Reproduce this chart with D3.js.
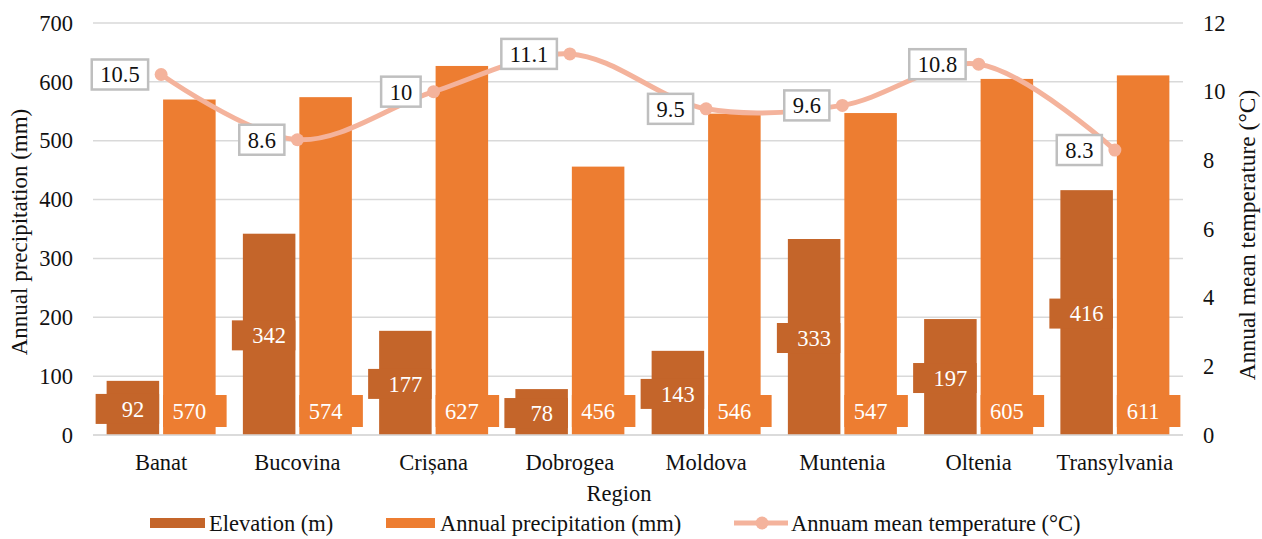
<!DOCTYPE html>
<html>
<head>
<meta charset="utf-8">
<script src="https://cdn.jsdelivr.net/npm/d3@7/dist/d3.min.js"></script>
<style>
  html, body { margin: 0; padding: 0; background: #ffffff; }
  svg { display: block; }
</style>
</head>
<body>
<svg id="chart" width="1262" height="539"></svg>
<script>
// Regions of Romania with elevation, precipitation and temperature
const regions = ["Banat", "Bucovina", "Crișana", "Dobrogea", "Moldova", "Muntenia", "Oltenia", "Transylvania"];
const elevation = [92, 342, 177, 78, 143, 333, 197, 416];
const precipitation = [570, 574, 627, 456, 546, 547, 605, 611];
const temperature = [10.5, 8.6, 10, 11.1, 9.5, 9.6, 10.8, 8.3];
const leftTicks = [0, 100, 200, 300, 400, 500, 600, 700];
const rightTicks = [0, 2, 4, 6, 8, 10, 12];
const seriesNames = ["Elevation (m)", "Annual precipitation (mm)", "Annuam mean temperature (°C)"];

const FONT = "Liberation Serif";
const FS = 22.5;
const colElev = "#c4652a";
const colPrec = "#ed7d31";
const colTemp = "#f4b39c";
const textCol = "#111111";

const svg = d3.select("#chart");
const plot = { left: 93, right: 1183, top: 23, bottom: 435 };

const x0 = d3.scaleBand().domain(regions).range([plot.left, plot.right])
  .paddingInner(0.2).paddingOuter(0.1);
const x1 = d3.scaleBand().domain(["elev", "prec"]).range([0, x0.bandwidth()]).paddingInner(0.07);
const yL = d3.scaleLinear().domain([0, 700]).range([plot.bottom, plot.top]);
const yR = d3.scaleLinear().domain([0, 12]).range([plot.bottom, plot.top]);

function txt(sel, size) {
  return sel.style("font-family", FONT).style("font-size", (size || FS) + "px");
}

// gridlines
svg.append("g").selectAll("line").data(leftTicks).join("line")
  .attr("x1", plot.left).attr("x2", plot.right)
  .attr("y1", d => yL(d)).attr("y2", d => yL(d))
  .attr("stroke", "#d9d9d9").attr("stroke-width", 1.5);

// left axis
const axL = svg.append("g").attr("transform", `translate(${plot.left - 20},0)`)
  .call(d3.axisLeft(yL).tickValues(leftTicks).tickSize(0).tickPadding(0));
axL.select(".domain").remove();
txt(axL.selectAll("text")).attr("fill", textCol);

// right axis
const axR = svg.append("g").attr("transform", `translate(${plot.right + 20},0)`)
  .call(d3.axisRight(yR).tickValues(rightTicks).tickSize(0).tickPadding(0));
axR.select(".domain").remove();
txt(axR.selectAll("text")).attr("fill", textCol);

// bars
const groups = svg.append("g").selectAll("g").data(regions).join("g")
  .attr("transform", d => `translate(${x0(d)},0)`);

groups.append("rect")
  .attr("x", x1("elev")).attr("width", x1.bandwidth())
  .attr("y", (d, i) => yL(elevation[i]))
  .attr("height", (d, i) => yL(0) - yL(elevation[i]))
  .attr("fill", colElev);

groups.append("rect")
  .attr("x", x1("prec")).attr("width", x1.bandwidth())
  .attr("y", (d, i) => yL(precipitation[i]))
  .attr("height", (d, i) => yL(0) - yL(precipitation[i]))
  .attr("fill", colPrec);

// data labels on bars: filled callouts
const boxH = 30, ext = 11;
// elevation: centred in bar, callout extends to the left
groups.append("rect")
  .attr("x", x1("elev") - ext).attr("width", x1.bandwidth() + ext)
  .attr("y", (d, i) => (yL(elevation[i]) + yL(0)) / 2 - boxH / 2 + 1)
  .attr("height", boxH).attr("fill", colElev);
txt(groups.append("text"))
  .attr("x", x1("elev") + x1.bandwidth() / 2)
  .attr("y", (d, i) => (yL(elevation[i]) + yL(0)) / 2 + 1)
  .attr("dy", "0.35em").attr("text-anchor", "middle")
  .attr("fill", "#ffffff")
  .text((d, i) => elevation[i]);

// precipitation: at inside base, callout extends to the right
groups.append("rect")
  .attr("x", x1("prec")).attr("width", x1.bandwidth() + ext)
  .attr("y", yL(0) - 40).attr("height", 32).attr("fill", colPrec);
txt(groups.append("text"))
  .attr("x", x1("prec") + x1.bandwidth() / 2)
  .attr("y", yL(0) - 24)
  .attr("dy", "0.35em").attr("text-anchor", "middle")
  .attr("fill", "#ffffff")
  .text((d, i) => precipitation[i]);

// baseline
svg.append("line").attr("x1", plot.left).attr("x2", plot.right)
  .attr("y1", yL(0)).attr("y2", yL(0))
  .attr("stroke", "#d9d9d9").attr("stroke-width", 1.5);

// temperature line
const cx = r => x0(r) + x0.bandwidth() / 2;
const line = d3.line().x((d, i) => cx(regions[i])).y(d => yR(d)).curve(d3.curveCatmullRom.alpha(0.5));
svg.append("path").datum(temperature)
  .attr("d", line).attr("fill", "none")
  .attr("stroke", colTemp).attr("stroke-width", 5).attr("stroke-linecap", "round");
svg.append("g").selectAll("circle").data(temperature).join("circle")
  .attr("cx", (d, i) => cx(regions[i])).attr("cy", d => yR(d))
  .attr("r", 6.5).attr("fill", colTemp);

// temperature labels, boxed to the left of each point
const tl = svg.append("g").selectAll("g").data(temperature).join("g");
tl.each(function (d, i) {
  const g = d3.select(this);
  const t = txt(g.append("text")).attr("fill", textCol)
    .attr("text-anchor", "middle").attr("dy", "0.35em").text(String(d));
  const w = t.node().getComputedTextLength() + 17;
  const right = cx(regions[i]) - 13;
  const yy = yR(d);
  g.insert("rect", "text")
    .attr("x", right - w).attr("y", yy - 15).attr("width", w).attr("height", 30)
    .attr("fill", "#ffffff").attr("stroke", "#bfbfbf").attr("stroke-width", 2.5);
  t.attr("x", right - w / 2).attr("y", yy);
});

// category labels
txt(svg.append("g").selectAll("text").data(regions).join("text"))
  .attr("x", d => cx(d)).attr("y", 462).attr("dy", "0.35em")
  .attr("text-anchor", "middle").attr("fill", textCol)
  .text(d => d);

// axis titles
txt(svg.append("text")).attr("x", 619).attr("y", 493).attr("dy", "0.35em")
  .attr("text-anchor", "middle").attr("fill", textCol).text("Region");
txt(svg.append("text"), 23).attr("transform", `translate(19,232) rotate(-90)`)
  .attr("dy", "0.35em").attr("text-anchor", "middle").attr("fill", textCol)
  .text("Annual precipitation (mm)");
txt(svg.append("text"), 23.5).attr("transform", `translate(1247,235) rotate(-90)`)
  .attr("dy", "0.35em").attr("text-anchor", "middle").attr("fill", textCol)
  .text("Annual mean temperature (°C)");

// legend
const ly = 523;
const leg = svg.append("g");
leg.append("rect").attr("x", 150).attr("y", ly - 5).attr("width", 55).attr("height", 10).attr("fill", colElev);
txt(leg.append("text")).attr("x", 209).attr("y", ly).attr("dy", "0.35em").attr("fill", textCol).text(seriesNames[0]);
leg.append("rect").attr("x", 386).attr("y", ly - 5).attr("width", 49).attr("height", 10).attr("fill", colPrec);
txt(leg.append("text")).attr("x", 440).attr("y", ly).attr("dy", "0.35em").attr("fill", textCol).text(seriesNames[1]);
leg.append("line").attr("x1", 734).attr("x2", 788).attr("y1", ly).attr("y2", ly)
  .attr("stroke", colTemp).attr("stroke-width", 5);
leg.append("circle").attr("cx", 762).attr("cy", ly).attr("r", 6.5).attr("fill", colTemp);
txt(leg.append("text")).attr("x", 791).attr("y", ly).attr("dy", "0.35em").attr("fill", textCol).text(seriesNames[2]);
</script>
</body>
</html>
